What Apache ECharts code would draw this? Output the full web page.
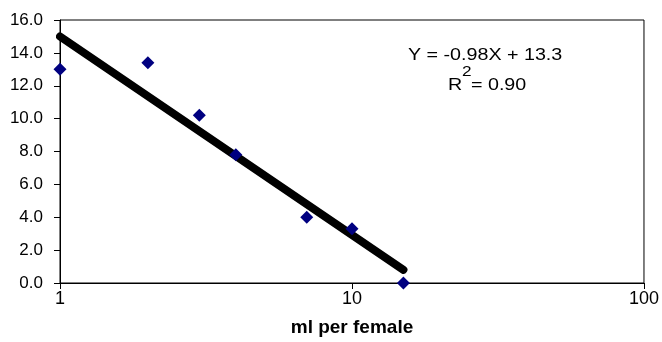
<!DOCTYPE html>
<html><head><meta charset="utf-8">
<script src="https://cdn.jsdelivr.net/npm/echarts@6/dist/echarts.min.js"></script>
<style>html,body{margin:0;padding:0;background:#fff}#c{width:662px;height:342px}</style>
</head><body><div id="c"></div>
<script>
const xValues = [1, 2, 3, 4, 7, 10, 15];
const yValues = [13.0, 13.4, 10.2, 7.8, 4.0, 3.3, 0.0];
const trendX = [1, 15];
const trendY = [15.0, 0.8];
const xTicks = [1, 10, 100];
const yTicks = [0, 2, 4, 6, 8, 10, 12, 14, 16];
const xTitle = 'ml per female';
const eqLine = 'Y = -0.98X + 13.3';
const r2Value = '0.90';

const chart = echarts.init(document.getElementById('c'));
const font = 'Liberation Sans, Arial, sans-serif';
const sx = 1.23;
chart.setOption({
  animation: false,
  grid: {left: 60, right: 16, top: 20, bottom: 55, show: true, borderColor: '#000', borderWidth: 1, backgroundColor: 'transparent'},
  xAxis: {
    type: 'log', logBase: 10, min: xTicks[0], max: xTicks[xTicks.length - 1],
    axisLine: {show: true, lineStyle: {color: '#000', width: 1}},
    axisTick: {show: true, length: 6, inside: false, lineStyle: {color: '#000'}},
    minorTick: {show: false}, splitLine: {show: false},
    axisLabel: {color: '#000', fontSize: 18, fontFamily: font, margin: 7, formatter: v => String(v)},
    name: xTitle, nameLocation: 'middle', nameGap: 35,
    nameTextStyle: {color: '#000', fontSize: 19, fontWeight: 'bold', fontFamily: font}
  },
  yAxis: {
    type: 'value', min: yTicks[0], max: yTicks[yTicks.length - 1], interval: 2,
    axisLine: {show: true, lineStyle: {color: '#000', width: 1}},
    axisTick: {show: true, length: 6, lineStyle: {color: '#000'}},
    splitLine: {show: false},
    axisLabel: {color: '#000', fontSize: 17, fontFamily: font, margin: 17, formatter: v => v.toFixed(1)}
  },
  series: [
    {type: 'line', data: trendX.map((x, i) => [x, trendY[i]]), symbol: 'none',
     lineStyle: {color: '#000', width: 8, cap: 'round'}, z: 2, silent: true},
    {type: 'scatter', data: xValues.map((x, i) => [x, yValues[i]]), symbol: 'diamond', symbolSize: [13, 13],
     itemStyle: {color: '#000080', opacity: 1}, z: 3}
  ],
  graphic: [
    {type: 'text', x: 408, y: 56, scaleX: sx, style: {text: eqLine, x: 0, y: 0, verticalAlign: 'middle', align: 'left', fontSize: 16, fontFamily: font, fill: '#000'}},
    {type: 'text', x: 448, y: 86, scaleX: sx, style: {text: 'R', x: 0, y: 0, verticalAlign: 'middle', align: 'left', fontSize: 16, fontFamily: font, fill: '#000'}},
    {type: 'text', x: 462, y: 72, scaleX: sx, style: {text: '2', x: 0, y: 0, verticalAlign: 'middle', align: 'left', fontSize: 14, fontFamily: font, fill: '#000'}},
    {type: 'text', x: 471, y: 86, scaleX: sx, style: {text: '= ' + r2Value, x: 0, y: 0, verticalAlign: 'middle', align: 'left', fontSize: 16, fontFamily: font, fill: '#000'}}
  ]
});
</script></body></html>
